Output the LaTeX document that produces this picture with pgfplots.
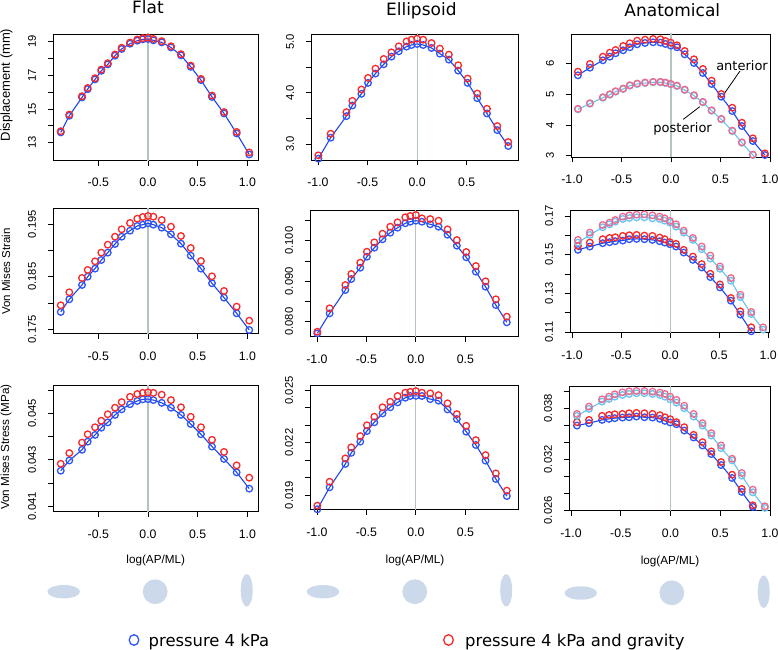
\documentclass[border=0pt]{standalone}
\usepackage{fontspec}
\setmainfont{Liberation Sans}
\newfontfamily\dv{DejaVu Sans}
\usepackage{pgfplots}
\usepackage{pgfplotstable}
\pgfplotsset{compat=1.18}

\definecolor{bl}{RGB}{45,85,250}
\definecolor{bln}{RGB}{30,70,235}
\definecolor{rd}{RGB}{250,40,40}
\definecolor{lb}{RGB}{105,195,240}
\definecolor{pk}{RGB}{240,105,140}
\definecolor{zl}{RGB}{180,196,196}
\definecolor{sh}{RGB}{203,217,235}

\newcommand{\fs}[1]{\fontsize{#1}{#1}\selectfont}

% x, displacement (blue, red), strain (blue, red), stress (blue, red)
\pgfplotstableread{
x db dr sb sr tb tr
-0.878 13.61 13.68 0.17829 0.17956 0.04253 0.04283
-0.792 14.60 14.67 0.18070 0.18203 0.04297 0.04329
-0.664 15.69 15.76 0.18342 0.18475 0.04343 0.04374
-0.607 16.18 16.25 0.18500 0.18627 0.04378 0.04410
-0.533 16.76 16.83 0.18652 0.18791 0.04407 0.04440
-0.470 17.27 17.34 0.18816 0.18956 0.04438 0.04468
-0.405 17.65 17.72 0.18956 0.19107 0.04461 0.04496
-0.332 18.17 18.24 0.19120 0.19259 0.04493 0.04524
-0.265 18.57 18.64 0.19259 0.19399 0.04517 0.04548
-0.181 18.88 18.95 0.19373 0.19519 0.04539 0.04571
-0.108 19.06 19.13 0.19462 0.19601 0.04553 0.04583
-0.053 19.14 19.21 0.19487 0.19633 0.04560 0.04588
0.000 19.16 19.24 0.19513 0.19652 0.04561 0.04590
0.054 19.08 19.16 0.19487 0.19639 0.04557 0.04588
0.138 18.96 19.03 0.19430 0.19576 0.04545 0.04580
0.231 18.66 18.73 0.19304 0.19449 0.04524 0.04557
0.332 18.19 18.26 0.19126 0.19272 0.04493 0.04526
0.430 17.51 17.58 0.18899 0.19044 0.04454 0.04485
0.533 16.72 16.79 0.18652 0.18797 0.04410 0.04440
0.644 15.72 15.80 0.18374 0.18506 0.04357 0.04386
0.765 14.74 14.82 0.18101 0.18228 0.04304 0.04334
0.892 13.55 13.64 0.17804 0.17930 0.04246 0.04276
1.019 12.30 12.42 0.17487 0.17664 0.04176 0.04223
}\flat

\pgfplotstableread{
x db dr sb sr tb tr
-0.996 2.714 2.779 0.07713 0.07753 0.01818 0.01839
-0.872 3.123 3.201 0.08206 0.08331 0.01944 0.01976
-0.713 3.545 3.623 0.08783 0.08906 0.02078 0.02110
-0.653 3.753 3.844 0.09054 0.09178 0.02142 0.02173
-0.562 3.981 4.065 0.09333 0.09457 0.02206 0.02238
-0.495 4.195 4.292 0.09605 0.09728 0.02267 0.02300
-0.420 4.377 4.474 0.09827 0.09960 0.02317 0.02349
-0.337 4.558 4.662 0.10035 0.10173 0.02368 0.02403
-0.259 4.708 4.792 0.10198 0.10346 0.02403 0.02435
-0.185 4.812 4.909 0.10321 0.10453 0.02431 0.02468
-0.107 4.903 5.006 0.10430 0.10578 0.02458 0.02487
-0.057 4.935 5.039 0.10469 0.10610 0.02468 0.02492
0.000 4.955 5.058 0.10494 0.10635 0.02469 0.02496
0.061 4.935 5.039 0.10469 0.10551 0.02468 0.02487
0.145 4.877 4.974 0.10405 0.10535 0.02450 0.02483
0.229 4.766 4.864 0.10346 0.10494 0.02441 0.02473
0.320 4.649 4.747 0.10148 0.10280 0.02391 0.02426
0.414 4.435 4.539 0.09877 0.10016 0.02336 0.02364
0.509 4.195 4.279 0.09590 0.09721 0.02263 0.02297
0.606 3.896 3.987 0.09235 0.09375 0.02187 0.02215
0.704 3.597 3.689 0.08864 0.08997 0.02097 0.02129
0.808 3.272 3.351 0.08412 0.08553 0.01992 0.02024
0.919 2.961 3.039 0.07985 0.08124 0.01894 0.01925
}\ellip

% a = anterior, p = posterior; b = pressure, r = pressure and gravity
\pgfplotstableread{
x dab dar dpb dpr sab sar spb spr tab tar tpb tpr
-0.940 5.610 5.728 4.506 4.521 0.15247 0.15453 0.15625 0.15762 0.03596 0.03636 0.03710 0.03733
-0.819 5.857 5.977 4.688 4.703 0.15418 0.15625 0.16020 0.16141 0.03624 0.03663 0.03792 0.03819
-0.688 6.097 6.214 4.883 4.898 0.15592 0.15798 0.16417 0.16536 0.03663 0.03710 0.03878 0.03905
-0.618 6.214 6.344 4.980 4.995 0.15643 0.15865 0.16570 0.16656 0.03675 0.03721 0.03909 0.03936
-0.560 6.325 6.432 5.078 5.093 0.15695 0.15900 0.16706 0.16794 0.03683 0.03729 0.03936 0.03964
-0.483 6.422 6.562 5.165 5.180 0.15728 0.15969 0.16845 0.16966 0.03690 0.03733 0.03956 0.03987
-0.416 6.520 6.650 5.273 5.288 0.15798 0.16003 0.16897 0.17034 0.03694 0.03741 0.03968 0.03999
-0.342 6.617 6.734 5.328 5.343 0.15814 0.16020 0.16931 0.17069 0.03702 0.03745 0.03976 0.04003
-0.262 6.660 6.767 5.360 5.375 0.15798 0.15986 0.16931 0.17086 0.03694 0.03741 0.03976 0.04003
-0.181 6.682 6.790 5.383 5.398 0.15762 0.15969 0.16879 0.17034 0.03690 0.03733 0.03968 0.03995
-0.107 6.671 6.780 5.383 5.398 0.15695 0.15883 0.16845 0.16966 0.03675 0.03718 0.03956 0.03983
-0.056 6.628 6.724 5.360 5.375 0.15625 0.15798 0.16759 0.16879 0.03651 0.03694 0.03936 0.03968
-0.003 6.573 6.670 5.317 5.332 0.15540 0.15643 0.16656 0.16742 0.03632 0.03671 0.03905 0.03936
0.060 6.520 6.584 5.262 5.277 0.15418 0.15556 0.16450 0.16570 0.03612 0.03636 0.03866 0.03897
0.138 6.292 6.400 5.133 5.148 0.15108 0.15247 0.16141 0.16244 0.03538 0.03577 0.03800 0.03830
0.232 6.010 6.130 4.948 4.963 0.14731 0.14901 0.15762 0.15865 0.03456 0.03487 0.03702 0.03733
0.322 5.685 5.815 4.733 4.748 0.14336 0.14509 0.15281 0.15418 0.03362 0.03401 0.03596 0.03624
0.410 5.328 5.436 4.460 4.475 0.13838 0.14009 0.14799 0.14953 0.03261 0.03292 0.03479 0.03507
0.508 4.916 5.003 4.181 4.196 0.13302 0.13457 0.14267 0.14387 0.03132 0.03167 0.03331 0.03362
0.619 4.450 4.558 3.800 3.815 0.12616 0.12756 0.13648 0.13787 0.02980 0.03018 0.03186 0.03206
0.716 3.963 4.071 3.420 3.435 0.11894 0.12065 0.12805 0.12926 0.02816 0.02851 0.03007 0.03038
0.827 3.476 3.563 3.021 3.036 0.11033 0.11240 0.11929 0.12034 0.02640 0.02659 0.02811 0.02843
0.948 3.021 3.076 2.600 2.615 0.10177 0.10383 0.11121 0.11240 0.02471 0.02491 0.02628 0.02647
}\anat

\pgfplotsset{
  panel/.style={scale only axis, anchor=south west, tick pos=left, tick align=outside,
    major tick length=5.5pt, axis line style={line width=0.9pt},
    every tick/.append style={black, line width=0.8pt},
    scaled y ticks=false, scaled x ticks=false,
    xticklabel style={font=\fs{12.3}, anchor=center, yshift=-17pt},
    yticklabel style={font=\fs{11.2}, rotate=90, anchor=center, yshift=15.5pt}},
  fx/.style={xmin=-0.956, xmax=1.107, xtick={-0.5,0,0.5,1}, xticklabels={-0.5,0.0,0.5,1.0}},
  ex/.style={xtick={-1,-0.5,0,0.5}, xticklabels={-1.0,-0.5,0.0,0.5}},
  ax/.style={xtick={-1,-0.5,0,0.5,1}, xticklabels={-1.0,-0.5,0.0,0.5,1.0}},
  pb/.style={bln, line width=1.1pt, mark=o, mark size=3.3pt, mark options={bl, line width=1.3pt}},
  pr/.style={only marks, mark=o, mark size=3.3pt, mark options={rd, line width=1.3pt}},
  plb/.style={lb, line width=1.1pt, mark=o, mark size=3.3pt, mark options={lb, line width=1.3pt}},
  ppk/.style={only marks, mark=o, mark size=3.3pt, mark options={pk, line width=1.3pt}},
  zero/.style={zl, line width=1.1pt, forget plot},
}

\begin{document}
\begin{tikzpicture}
\path[use as bounding box] (0,0) rectangle (778pt,649pt);

% row 1: displacement
\begin{axis}[panel, at={(53pt,489pt)}, width=205pt, height=126pt, fx,
  ymin=11.972, ymax=19.457, ytick={13,14,...,19}, yticklabels={13,{},15,{},17,{},19}]
\addplot[zero] coordinates {(0,11)(0,20)};
\addplot[pb] table[x=x,y=db]{\flat};
\addplot[pr] table[x=x,y=dr]{\flat};
\end{axis}

\begin{axis}[panel, at={(311pt,489pt)}, width=207pt, height=126pt, ex,
  xmin=-1.070, xmax=1.017, ymin=2.688, ymax=5.150,
  ytick={3,3.5,4,4.5,5}, yticklabels={3.0,{},4.0,{},5.0}]
\addplot[zero] coordinates {(0,2)(0,6)};
\addplot[pb] table[x=x,y=db]{\ellip};
\addplot[pr] table[x=x,y=dr]{\ellip};
\end{axis}

\begin{axis}[panel, at={(571pt,492pt)}, width=199pt, height=123pt, ax,
  xmin=-1.01, xmax=1.0, ymin=2.958, ymax=6.951,
  ytick={3,4,5,6}, yticklabels={3,4,5,6}]
\addplot[zero] coordinates {(0,2)(0,8)};
\addplot[pb] table[x=x,y=dab]{\anat};
\addplot[pr] table[x=x,y=dar]{\anat};
\addplot[plb] table[x=x,y=dpb]{\anat};
\addplot[ppk] table[x=x,y=dpr]{\anat};
\draw[black, line width=0.8pt] (axis cs:0.697,5.75) -- (axis cs:0.528,4.97);
\node[anchor=base west, inner sep=0pt, font=\dv\fs{13}] at (axis cs:0.455,5.76) {anterior};
\draw[black, line width=0.8pt] (axis cs:0.124,4.18) -- (axis cs:0.29,4.59);
\node[anchor=base west, inner sep=0pt, font=\dv\fs{13}] at (axis cs:-0.179,3.76) {posterior};
\end{axis}

% row 2: von Mises strain
\begin{axis}[panel, at={(53pt,315.7pt)}, width=205pt, height=125pt, fx,
  ymin=0.17424, ymax=0.19798, ytick={0.175,0.18,0.185,0.19,0.195},
  yticklabels={0.175,{},0.185,{},0.195}]
\addplot[zero] coordinates {(0,0.17)(0,0.2)};
\addplot[pb] table[x=x,y=sb]{\flat};
\addplot[pr] table[x=x,y=sr]{\flat};
\end{axis}

\begin{axis}[panel, at={(310pt,312.3pt)}, width=208pt, height=126pt, ex,
  xmin=-1.070, xmax=1.032, ymin=0.07630, ymax=0.10741,
  ytick={0.08,0.085,0.09,0.095,0.1,0.105}, yticklabels={0.080,{},0.090,{},0.100,{}}]
\addplot[zero] coordinates {(0,0.07)(0,0.11)};
\addplot[pb] table[x=x,y=sb]{\ellip};
\addplot[pr] table[x=x,y=sr]{\ellip};
\end{axis}

\begin{axis}[panel, at={(570pt,316.7pt)}, width=199pt, height=122.3pt, ax,
  xmin=-1.021, xmax=1.008, ymin=0.1098, ymax=0.1731,
  ytick={0.11,0.12,0.13,0.14,0.15,0.16,0.17}, yticklabels={0.11,{},0.13,{},0.15,{},0.17}]
\addplot[zero] coordinates {(0,0.1)(0,0.18)};
\addplot[pb] table[x=x,y=sab]{\anat};
\addplot[pr] table[x=x,y=sar]{\anat};
\addplot[plb] table[x=x,y=spb]{\anat};
\addplot[ppk] table[x=x,y=spr]{\anat};
\end{axis}

% row 3: von Mises stress
\begin{axis}[panel, at={(53pt,137.3pt)}, width=205pt, height=126.7pt, fx,
  ymin=0.040768, ymax=0.046217, ytick={0.041,0.042,0.043,0.044,0.045,0.046},
  yticklabels={0.041,{},0.043,{},0.045,{}}]
\addplot[zero] coordinates {(0,0.04)(0,0.047)};
\addplot[pb] table[x=x,y=tb]{\flat};
\addplot[pr] table[x=x,y=tr]{\flat};
\end{axis}

\begin{axis}[panel, at={(310pt,139.7pt)}, width=208pt, height=124.3pt, ex,
  xmin=-1.070, xmax=1.032, ymin=0.01818, ymax=0.02531,
  ytick={0.019,0.02,0.021,0.022,0.023,0.024,0.025}, yticklabels={0.019,{},{},0.022,{},{},0.025}]
\addplot[zero] coordinates {(0,0.017)(0,0.026)};
\addplot[pb] table[x=x,y=tb]{\ellip};
\addplot[pr] table[x=x,y=tr]{\ellip};
\end{axis}

\begin{axis}[panel, at={(569pt,138.3pt)}, width=201pt, height=124pt, ax,
  xmin=-1.02, xmax=1.0, ymin=0.02595, ymax=0.04053,
  ytick={0.026,0.028,0.03,0.032,0.034,0.036,0.038,0.04},
  yticklabels={0.026,{},{},0.032,{},{},0.038,{}}]
\addplot[zero] coordinates {(0,0.025)(0,0.042)};
\addplot[pb] table[x=x,y=tab]{\anat};
\addplot[pr] table[x=x,y=tar]{\anat};
\addplot[plb] table[x=x,y=tpb]{\anat};
\addplot[ppk] table[x=x,y=tpr]{\anat};
\end{axis}

% titles and axis labels
\node[anchor=base, font=\dv\fs{17}] at (148pt,635.7pt) {Flat};
\node[anchor=base, font=\dv\fs{17}] at (421.3pt,633pt) {Ellipsoid};
\node[anchor=base, font=\dv\fs{17}] at (672.3pt,632.3pt) {Anatomical};
\node[rotate=90, font=\fs{13}] at (6.5pt,564pt) {Displacement (mm)};
\node[rotate=90, font=\fs{11.5}] at (6pt,377.5pt) {Von Mises Strain};
\node[rotate=90, font=\fs{11.7}] at (6pt,202pt) {Von Mises Stress (MPa)};
\node[font=\fs{11.7}] at (155.7pt,89pt) {log(AP/ML)};
\node[font=\fs{11.7}] at (415pt,89pt) {log(AP/ML)};
\node[font=\fs{11.7}] at (670pt,88pt) {log(AP/ML)};

% shape sketches
\fill[sh] (63.7pt,57.3pt) ellipse [x radius=16.3pt, y radius=6.7pt];
\fill[sh] (155.2pt,57.3pt) circle [radius=12.4pt];
\fill[sh] (246.7pt,58.7pt) ellipse [x radius=6pt, y radius=16.3pt];
\fill[sh] (323pt,57.3pt) ellipse [x radius=16.3pt, y radius=6.7pt];
\fill[sh] (414.8pt,57.3pt) circle [radius=12.4pt];
\fill[sh] (506.2pt,58.7pt) ellipse [x radius=6pt, y radius=16.3pt];
\fill[sh] (580.8pt,56pt) ellipse [x radius=16.3pt, y radius=6.7pt];
\fill[sh] (671.8pt,56.2pt) circle [radius=12.4pt];
\fill[sh] (763.7pt,57.3pt) ellipse [x radius=6pt, y radius=16.3pt];

% legend
\draw[bl, line width=1.3pt] (134pt,9pt) ellipse [x radius=4.8pt, y radius=5.3pt];
\node[anchor=base west, inner sep=0pt, font=\dv\fs{16.4}] at (148.5pt,3pt) {pressure 4 kPa};
\draw[rd, line width=1.3pt] (448.5pt,9pt) ellipse [x radius=4.8pt, y radius=5.3pt];
\node[anchor=base west, inner sep=0pt, font=\dv\fs{16.4}] at (465pt,3pt) {pressure 4 kPa and gravity};
\end{tikzpicture}
\end{document}
